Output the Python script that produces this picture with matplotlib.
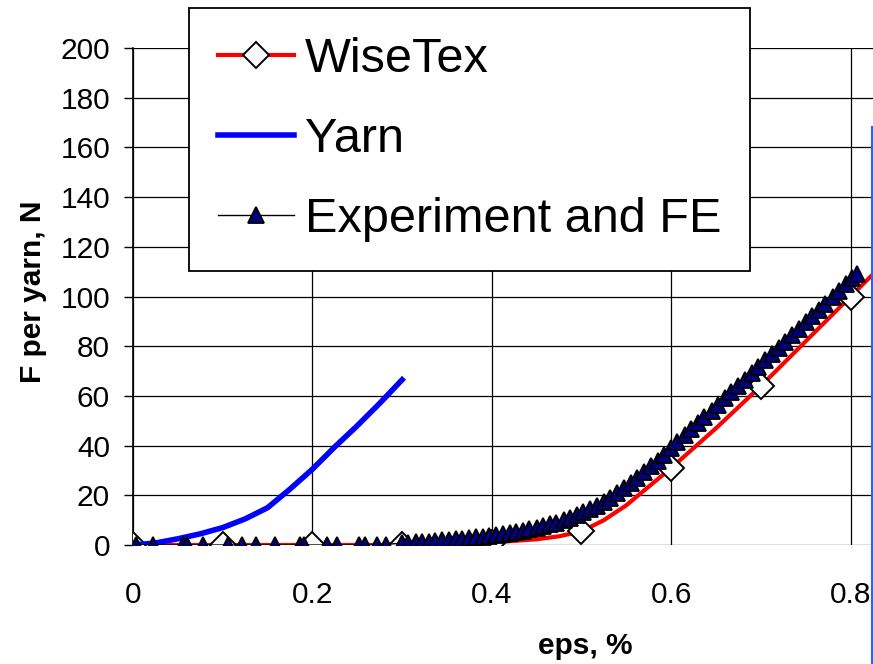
import matplotlib
matplotlib.use("Agg")
import matplotlib.pyplot as plt
from matplotlib.lines import Line2D

plt.rcParams['font.family'] = ['Liberation Sans', 'DejaVu Sans']

# WiseTex: markers only on the 0.1 steps
wisetex_eps = [0, 0.1, 0.2, 0.3, 0.35, 0.4, 0.45, 0.475, 0.5, 0.525, 0.55, 0.6, 0.65, 0.7,
               0.75, 0.8, 0.85, 0.9]
wisetex_f = [0, 0, 0, 0, 0.3, 1, 2.3, 3.5, 5.5, 10, 16, 31, 47, 64, 82, 100, 118, 136]
wisetex_marks = [0, 1, 2, 3, 5, 8, 11, 13, 15, 17]

yarn_eps = [0, 0.025, 0.05, 0.075, 0.1, 0.125, 0.15, 0.175, 0.2, 0.225, 0.25, 0.275, 0.3]
yarn_f = [0, 0.8, 2.5, 4.5, 7, 10.5, 15, 22.5, 30.5, 39.5, 48, 57, 66.5]

exp_eps = [0.003, 0.022, 0.056, 0.060, 0.078, 0.106, 0.121, 0.137, 0.158, 0.186, 0.191,
           0.216, 0.227, 0.252, 0.259, 0.272, 0.282,
           0.300, 0.307, 0.315, 0.322, 0.330, 0.337, 0.345, 0.352, 0.360, 0.367,
           0.375, 0.382, 0.390, 0.397, 0.405, 0.412, 0.420, 0.427, 0.435, 0.442,
           0.450, 0.457, 0.465, 0.472, 0.480, 0.487, 0.495, 0.502, 0.510, 0.517,
           0.525, 0.532, 0.540, 0.547, 0.555, 0.562, 0.570, 0.577, 0.585, 0.592,
           0.600, 0.607, 0.615, 0.622, 0.630, 0.637, 0.645, 0.652, 0.660, 0.667,
           0.675, 0.682, 0.690, 0.697, 0.705, 0.712, 0.720, 0.727, 0.735, 0.742,
           0.750, 0.757, 0.765, 0.772, 0.780, 0.787, 0.795, 0.802, 0.807]
exp_f = [0, 0, 0, 0, 0, 0, 0, 0, 0, 0, 0,
         0, 0, 0, 0, 0, 0.2,
         0.8, 0.95, 1.1, 1.25, 1.4, 1.6, 1.85, 2.05, 2.3, 2.5,
         2.8, 3.1, 3.4, 3.7, 4.05, 4.4, 4.8, 5.2, 5.75, 6.25,
         6.9, 7.5, 8.3, 9.0, 10.0, 10.9, 12.0, 13.1, 14.5, 15.8,
         17.5, 19.0, 21.0, 22.8, 25.0, 27.0, 29.4, 31.6, 34.0, 36.3,
         39.2, 41.5, 44.1, 46.5, 49.1, 51.4, 54.0, 56.4, 59.0, 61.4,
         64.1, 66.5, 69.2, 71.6, 74.3, 76.7, 79.4, 81.8, 84.5, 86.9,
         89.6, 92.0, 94.7, 97.1, 99.8, 102.2, 104.9, 107.3, 109.0]

x_ticks = [0, 0.2, 0.4, 0.6, 0.8, 1.0]
x_ticklabels = ['0', '0.2', '0.4', '0.6', '0.8', '1']
y_ticks = [0, 20, 40, 60, 80, 100, 120, 140, 160, 180, 200]

W, H = 873, 664
fig = plt.figure(figsize=(W / 100, H / 100), dpi=100)
# axes runs past the right edge (the original picture was cropped there)
ax = fig.add_axes([133 / W, (H - 545) / H, 897 / W, 497 / H])

ax.plot(wisetex_eps, wisetex_f, color='red', lw=3, marker='D', markevery=wisetex_marks,
        markersize=13.5, markerfacecolor='white', markeredgecolor='black',
        markeredgewidth=1.4, label='WiseTex', zorder=3)
ax.plot(yarn_eps, yarn_f, color='#0000ff', lw=4, label='Yarn', zorder=4)
ax.plot(exp_eps, exp_f, color='black', lw=1, marker='^', markersize=11.5,
        markerfacecolor='#000080', markeredgecolor='black', markeredgewidth=1.3,
        label='Experiment and FE', zorder=5)

ax.set_xlim(0, 1.0)
ax.set_ylim(0, 200)
ax.set_xticks(x_ticks)
ax.set_xticklabels(x_ticklabels)
ax.set_yticks(y_ticks)
ax.grid(True, color='black', lw=0.9)
ax.set_axisbelow(True)

for s in ['top', 'right', 'bottom']:
    ax.spines[s].set_visible(False)
ax.spines['left'].set_linewidth(1.2)
ax.tick_params(axis='x', length=0, pad=26, labelsize=21.5)
ax.tick_params(axis='y', length=6.5, width=1, pad=10, labelsize=21.5)

ax.set_xlabel('eps, %', fontsize=21.5, fontweight='bold')
ax.set_ylabel('F per yarn, N', fontsize=21.5, fontweight='bold')
ax.xaxis.set_label_coords(0.504, -0.175)
ax.yaxis.set_label_coords(-0.096, 0.509)

leg = ax.legend(loc='upper left', bbox_to_anchor=(189 / W, 1 - 8 / H),
                bbox_transform=fig.transFigure, fontsize=35, frameon=True,
                fancybox=False, handlelength=1.55, handletextpad=0.23,
                labelspacing=0.72, borderpad=0.6, borderaxespad=0)
leg.get_frame().set_edgecolor('black')
leg.get_frame().set_linewidth(1.3)
leg.get_frame().set_alpha(1)

# thin blue edge line at the right border of the original picture
fig.add_artist(Line2D([872 / W, 872 / W], [0, 1 - 127 / H], transform=fig.transFigure,
                      color='#3a5fdc', lw=1.5))

fig.savefig('out.png', dpi=100)
